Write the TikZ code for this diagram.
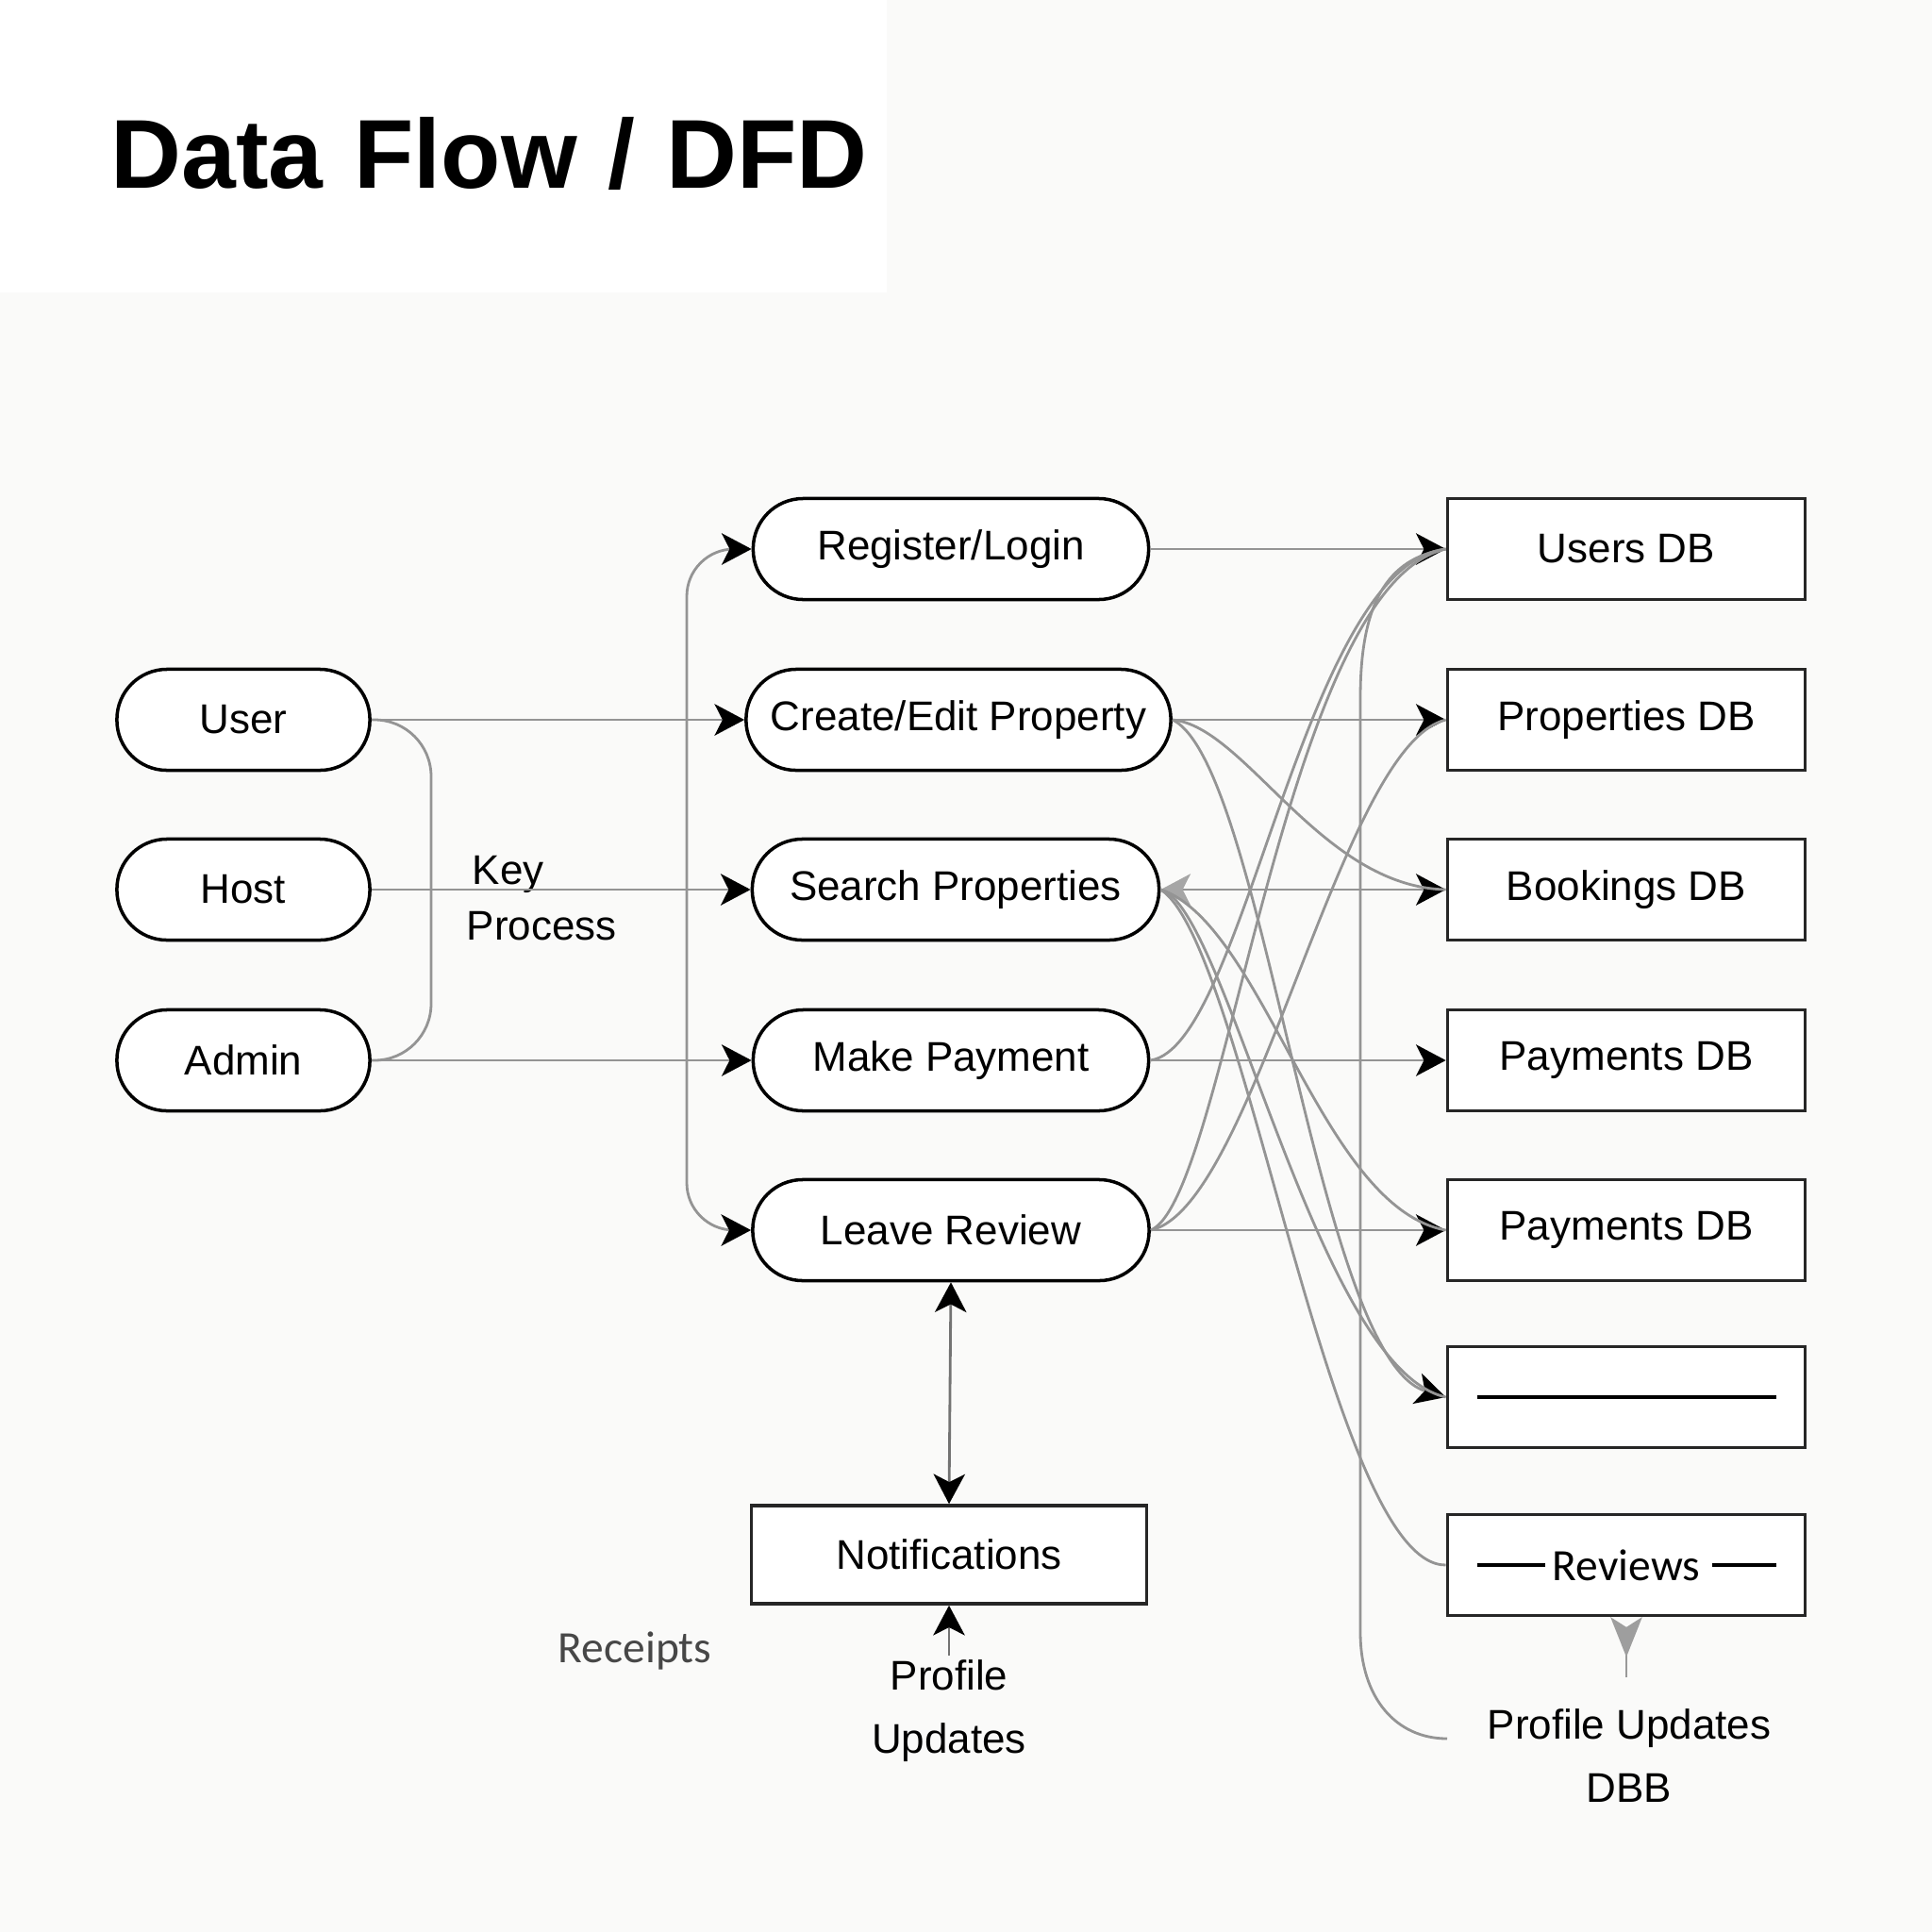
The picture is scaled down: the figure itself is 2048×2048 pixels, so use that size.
\documentclass[tikz,border=0pt]{standalone}
\usepackage{fontspec}
\setmainfont{Liberation Sans}
\newfontfamily\humfont{Carlito}
\usetikzlibrary{arrows.meta}
\definecolor{bgc}{RGB}{250,250,249}
\begin{document}
\begin{tikzpicture}[x=0.01cm,y=-0.01cm,
  every node/.style={font=\fontsize{12.5}{19}\selectfont},
  proc/.style={draw=black, line width=1pt, fill=white, rounded corners=0.53cm, minimum height=1.07cm, inner sep=0pt},
  store/.style={draw=black!85, line width=1pt, fill=white, minimum width=3.79cm, minimum height=1.07cm, inner sep=0pt},
  flow/.style={draw=black!42, line width=0.8pt},
  tip/.style={-{Stealth[length=9pt,width=9.5pt,inset=2.4pt,color=black]}},
  tips/.style={{Stealth[length=9pt,width=9.5pt,inset=2.4pt,color=black]}-{Stealth[length=9pt,width=9.5pt,inset=2.4pt,color=black]}},
]
\useasboundingbox (0,0) rectangle (2048,2048);
\fill[bgc] (0,0) rectangle (2048,2048);
\fill[white] (0,0) rectangle (940,310);

% title
\node[font=\fontsize{29.5}{35}\selectfont\bfseries, anchor=west, inner sep=0pt] (title) at (117,163) {Data\hspace{0.04em} Flow\hspace{0.04em} /\hspace{0.04em} DFD};

% external entities
\node[proc, minimum width=2.68cm] (user) at (258,763) {User};
\node[proc, minimum width=2.68cm] (host) at (258,943) {Host};
\node[proc, minimum width=2.68cm] (admin) at (258,1124) {Admin};

% processes
\node[proc, minimum width=4.19cm] (rl) at (1008,582) {Register/Login};
\node[proc, minimum width=4.50cm] (ce) at (1016,763) {Create/Edit Property};
\node[proc, minimum width=4.31cm] (sp) at (1013,943) {Search Properties};
\node[proc, minimum width=4.19cm] (mp) at (1008,1124) {Make Payment};
\node[proc, minimum width=4.20cm] (lr) at (1008,1304) {Leave Review};

% stores
\node[store] (ud) at (1724,582) {Users DB};
\node[store] (pd) at (1724,763) {Properties DB};
\node[store] (bd) at (1724,943) {Bookings DB};
\node[store] (p1) at (1724,1124) {Payments DB};
\node[store] (p2) at (1724,1304) {Payments DB};
\node[store] (bx) at (1724,1481) {};
\node[store, font=\humfont\fontsize{13.5}{16}\selectfont] (rv) at (1724,1659) {Reviews};
\node[store, minimum width=4.19cm, minimum height=1.04cm] (nt) at (1006,1648) {Notifications};

\draw[line width=1pt] ([xshift=0.33cm]bx.west) -- ([xshift=-0.32cm]bx.east);
\draw[line width=1pt] ([xshift=0.33cm]rv.west) -- ([xshift=1.05cm]rv.west);
\draw[line width=1pt] ([xshift=-1.00cm]rv.east) -- ([xshift=-0.32cm]rv.east);

% labels
\node[align=left, anchor=west, inner sep=0pt, font=\fontsize{12.5}{17}\selectfont] (kp) at (494,952) {\hspace{0.06cm}Key\\Process};
\node[text=black!72, font=\humfont\fontsize{13.5}{16}\selectfont] (rc) at (673,1750) {Receipts};
\node[align=center, inner sep=0pt] (pu) at (1006,1814) {Profile\\Updates};
\node[align=center, inner sep=0pt] (pud) at (1727,1861) {Profile Updates\\DBB};
\coordinate (pus) at (1006,1755);
\coordinate (rvs) at (1724,1778);
\coordinate (pue) at (1534,1843);

% left connectors
\draw[flow,tip] (user.east) -- (ce.west);
\draw[flow,tip] (host.east) -- (sp.west);
\draw[flow,tip] (admin.east) -- (mp.west);
\draw[flow, rounded corners=0.6cm] (user.east) -- (457,763) -- (457,1124) -- (admin.east);
\draw[flow, tips, rounded corners=0.5cm] (rl.west) -- (728,582) -- (728,1304) -- (lr.west);

% straight right connectors
\draw[flow,tip] (rl.east) -- (ud.west);
\draw[flow,tip] (ce.east) -- (pd.west);
\draw[flow,{Stealth[length=9pt,width=9.5pt,inset=2.4pt,color=black!35]}-{Stealth[length=9pt,width=9.5pt,inset=2.4pt,color=black]}] (sp.east) -- (bd.west);
\draw[flow,tip] (mp.east) -- (p1.west);
\draw[flow,tip] (lr.east) -- (p2.west);

% curved connectors
\draw[flow] (ce.east) .. controls (1320,770) and (1400,940) .. (bd.west);
\draw[flow,tip] (ce.east) .. controls (1340,810) and (1395,1440) .. (bx.west);
\draw[flow] (sp.east) .. controls (1340,980) and (1400,1280) .. (p2.west);
\draw[flow] (sp.east) .. controls (1320,1000) and (1410,1660) .. (rv.west);
\draw[flow] (sp.east) .. controls (1300,960) and (1395,1450) .. (bx.west);
\draw[flow] (mp.east) .. controls (1320,1110) and (1380,600) .. (ud.west);
\draw[flow] (lr.east) .. controls (1300,1270) and (1360,620) .. (ud.west);
\draw[flow] (lr.east) .. controls (1330,1280) and (1420,790) .. (pd.west);
\draw[flow] (ud.west) .. controls (1470,592) and (1442,640) .. (1442,740) -- (1442,1730) .. controls (1442,1800) and (1480,1843) .. (pue);

% bottom connectors
\draw[draw=black!55, line width=0.8pt, tips] (lr.south) -- (nt.north);
\draw[draw=black!55, line width=0.8pt, tip] (pus) -- (nt.south);
\draw[draw=black!40, line width=0.8pt, -{Stealth[reversed,length=12pt,width=9.5pt,inset=3pt,color=black!38]}] (rvs) -- (rv.south);
\end{tikzpicture}
\end{document}
